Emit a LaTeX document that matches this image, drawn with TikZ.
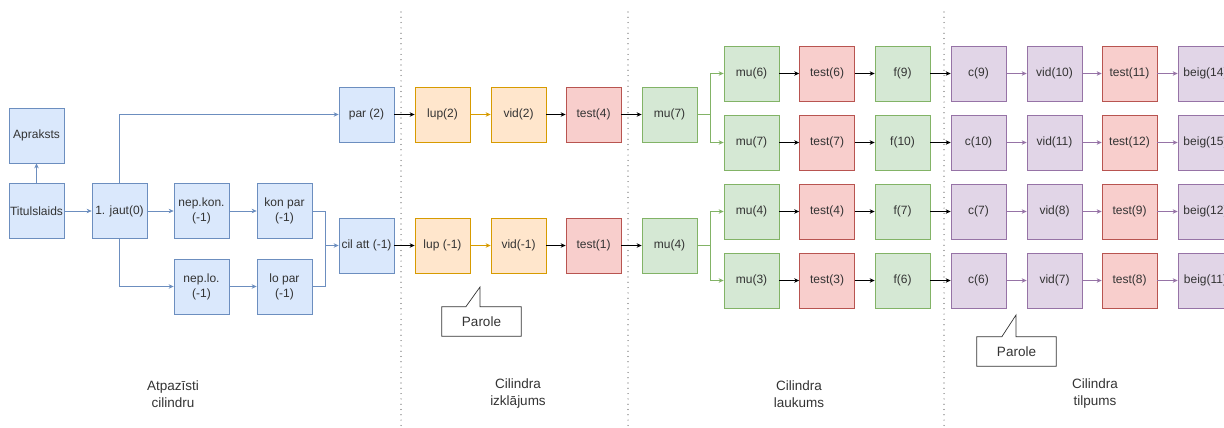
\documentclass[tikz,border=0pt]{standalone}
\usepackage{fontspec}
\setmainfont{Liberation Sans}
\usetikzlibrary{arrows.meta,calc}
\definecolor{txt}{HTML}{333333}
\definecolor{blueF}{HTML}{DAE8FC}\definecolor{blueS}{HTML}{6C8EBF}
\definecolor{orF}{HTML}{FFE6CC}\definecolor{orS}{HTML}{D79B00}
\definecolor{redF}{HTML}{F8CECC}\definecolor{redS}{HTML}{B85450}
\definecolor{grF}{HTML}{D5E8D4}\definecolor{grS}{HTML}{82B366}
\definecolor{puF}{HTML}{E1D5E7}\definecolor{puS}{HTML}{9673A6}
\definecolor{sep}{HTML}{555555}
\begin{document}
\begin{tikzpicture}[x=1pt,y=-1pt,
  base/.style={draw, minimum width=55pt, minimum height=55pt, inner sep=1pt, align=center,
    font=\fontsize{12}{15}\selectfont, text=txt, line width=0.7pt},
  bl/.style={base, fill=blueF, draw=blueS},
  orb/.style={base, fill=orF, draw=orS},
  rdb/.style={base, fill=redF, draw=redS},
  grb/.style={base, fill=grF, draw=grS},
  pub/.style={base, fill=puF, draw=puS},
  arr/.style={-{Stealth[length=5pt,width=4.5pt]}, line width=0.7pt},
  barr/.style={arr, draw=blueS},
  karr/.style={arr, draw=black},
  oarr/.style={arr, draw=orS},
  garr/.style={arr, draw=grS},
  parr/.style={arr, draw=puS},
  divider/.style={draw=sep, line width=1.2pt, line cap=round, dash pattern=on 0pt off 5.3pt},
  lab/.style={align=center, text=txt, font=\fontsize{13.5}{17}\selectfont},
  callout/.style={draw=txt, line width=0.7pt, fill=white},
  ctext/.style={text=txt, font=\fontsize{13.5}{16}\selectfont},
]
\useasboundingbox (0,0) rectangle (1224,428);
\clip (0,0) rectangle (1224,428);

% dividers
\draw[divider] (401,12) -- (401,428);
\draw[divider] (628,12) -- (628,428);
\draw[divider] (944,12) -- (944,428);

% section 1
\node[bl] (apr) at (36.5,135.5) {Apraksts};
\node[bl] (tit) at (36.5,211) {Titulslaids};
\node[bl] (j1)  at (119.5,211) {1. jaut(0)};
\node[bl] (nk)  at (201.5,211) {nep.kon.\\(-1)};
\node[bl] (kp)  at (284.5,211) {kon par\\(-1)};
\node[bl] (nl)  at (201.5,286.5) {nep.lo.\\(-1)};
\node[bl] (lp)  at (284.5,286.5) {lo par\\(-1)};
\node[bl] (par) at (366.5,114.5) {par (2)};
\node[bl] (cil) at (366.5,245.5) {cil att (-1)};
\coordinate (mj) at (325,245.5);

% section 2
\node[orb] (lupa) at (442.5,114.5) {lup(2)};
\node[orb] (vida) at (518.5,114.5) {vid(2)};
\node[rdb] (tsta) at (593.5,114.5) {test(4)};
\node[orb] (lupb) at (442.5,245.5) {lup (-1)};
\node[orb] (vidb) at (518.5,245.5) {vid(-1)};
\node[rdb] (tstb) at (593.5,245.5) {test(1)};

% section 3
\node[grb] (mua) at (669.5,114.5) {mu(7)};
\node[grb] (mub) at (669.5,245.5) {mu(4)};
\coordinate (bra) at (710,114.5);
\coordinate (brb) at (710,245.5);
\node[grb] (m1) at (751.5,73.5) {mu(6)};
\node[grb] (m2) at (751.5,142.5) {mu(7)};
\node[grb] (m3) at (751.5,211.5) {mu(4)};
\node[grb] (m4) at (751.5,280.5) {mu(3)};
\node[rdb] (t1) at (827,73.5) {test(6)};
\node[rdb] (t2) at (827,142.5) {test(7)};
\node[rdb] (t3) at (827,211.5) {test(4)};
\node[rdb] (t4) at (827,280.5) {test(3)};
\node[grb] (f1) at (902.5,73.5) {f(9)};
\node[grb] (f2) at (902.5,142.5) {f(10)};
\node[grb] (f3) at (902.5,211.5) {f(7)};
\node[grb] (f4) at (902.5,280.5) {f(6)};

% section 4
\node[pub] (c1) at (978.5,73.5) {c(9)};
\node[pub] (c2) at (978.5,142.5) {c(10)};
\node[pub] (c3) at (978.5,211.5) {c(7)};
\node[pub] (c4) at (978.5,280.5) {c(6)};
\node[pub] (v1) at (1054.5,73.5) {vid(10)};
\node[pub] (v2) at (1054.5,142.5) {vid(11)};
\node[pub] (v3) at (1054.5,211.5) {vid(8)};
\node[pub] (v4) at (1054.5,280.5) {vid(7)};
\node[rdb] (u1) at (1129.5,73.5) {test(11)};
\node[rdb] (u2) at (1129.5,142.5) {test(12)};
\node[rdb] (u3) at (1129.5,211.5) {test(9)};
\node[rdb] (u4) at (1129.5,280.5) {test(8)};
\node[pub] (b1) at (1205.5,73.5) {beig(14)};
\node[pub] (b2) at (1205.5,142.5) {beig(15)};
\node[pub] (b3) at (1205.5,211.5) {beig(12)};
\node[pub] (b4) at (1205.5,280.5) {beig(11)};

% connectors section 1
\draw[barr] (tit) -- (apr);
\draw[barr] (tit) -- (j1);
\draw[barr] (j1) -- (nk);
\draw[barr] (nk) -- (kp);
\draw[barr] (nl) -- (lp);
\draw[barr] (j1.north) |- (par.west);
\draw[barr] (j1.south) |- (nl.west);
\draw[barr] (kp.east) -| (mj) -- (cil.west);
\draw[draw=blueS, line width=0.7pt] (lp.east) -| (mj);

% section 2
\draw[karr] (par) -- (lupa);
\draw[karr] (cil) -- (lupb);
\draw[oarr] (lupa) -- (vida);
\draw[oarr] (lupb) -- (vidb);
\draw[karr] (vida) -- (tsta);
\draw[karr] (vidb) -- (tstb);
\draw[karr] (tsta) -- (mua);
\draw[karr] (tstb) -- (mub);

% section 3
\draw[draw=grS, line width=0.7pt] (mua.east) -- (bra);
\draw[draw=grS, line width=0.7pt] (mub.east) -- (brb);
\draw[garr] (bra) |- (m1.west);
\draw[garr] (bra) |- (m2.west);
\draw[garr] (brb) |- (m3.west);
\draw[garr] (brb) |- (m4.west);
\foreach \i in {1,2,3,4} {
  \draw[karr] (m\i) -- (t\i);
  \draw[karr] (t\i) -- (f\i);
  \draw[karr] (f\i) -- (c\i);
  \draw[parr] (c\i) -- (v\i);
  \draw[parr] (v\i) -- (u\i);
  \draw[parr] (u\i) -- (b\i);
}

% callouts
\node[minimum width=79pt, minimum height=29pt, inner sep=0pt] (pa) at (481.5,321.5) {};
\coordinate (pta) at (480,287);
\draw[callout] (pa.north west) -- ($(pa.north west)+(24,0)$) -- (pta) -- (pta |- pa.north) -- (pa.north east) -- (pa.south east) -- (pa.south west) -- cycle;
\node[ctext] (pat) at (pa) {Parole};

\node[minimum width=79pt, minimum height=29pt, inner sep=0pt] (pb) at (1016.5,351.5) {};
\coordinate (ptb) at (1016,315);
\draw[callout] (pb.north west) -- ($(pb.north west)+(25,0)$) -- (ptb) -- (ptb |- pb.north) -- (pb.north east) -- (pb.south east) -- (pb.south west) -- cycle;
\node[ctext] (pbt) at (pb) {Parole};

% section labels
\node[lab] (l1) at (173,394) {Atpazīsti\\cilindru};
\node[lab] (l2) at (518,394) {Cilindra\\izklājums};
\node[lab] (l3) at (799,394) {Cilindra\\laukums};
\node[lab] (l4) at (1095,394) {Cilindra\\tilpums};
\end{tikzpicture}
\end{document}
